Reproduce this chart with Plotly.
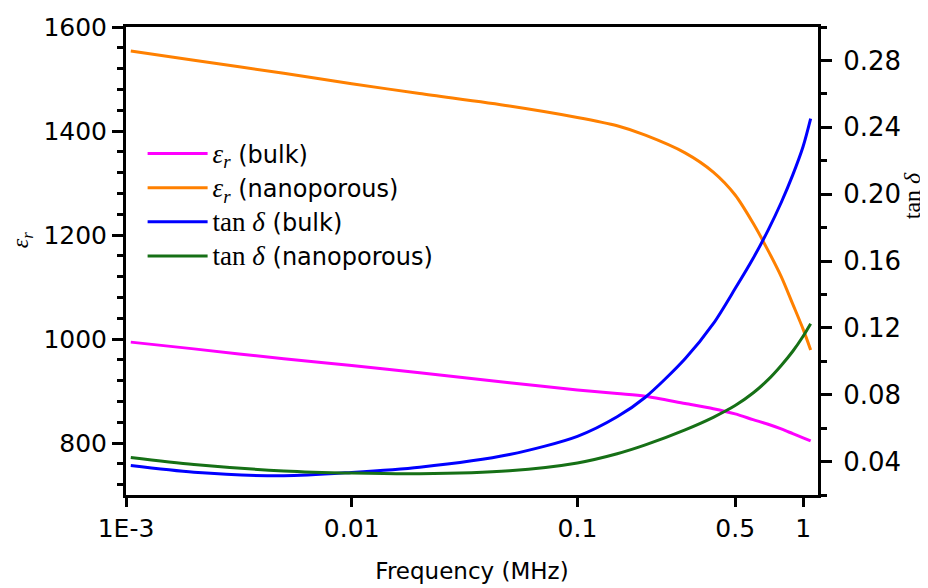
import plotly.graph_objects as go

freq_mhz = [0.00105, 0.002, 0.005, 0.01, 0.02, 0.05, 0.1, 0.15, 0.2, 0.3,
            0.4, 0.5, 0.6, 0.7, 0.8, 0.9, 1.0, 1.08]

# Relative permittivity (left axis)
eps_bulk = [994, 981, 962, 949, 935, 916, 902, 895, 890, 876,
            866, 856, 845, 836, 827, 818, 810, 804]
eps_nano = [1554, 1536, 1511, 1491, 1472, 1448, 1426, 1410, 1392, 1358,
            1321, 1277, 1223, 1170, 1120, 1067, 1019, 979]

# Loss tangent (right axis)
tan_bulk = [0.0376, 0.0336, 0.0315, 0.0335, 0.0366, 0.0442, 0.0551, 0.0668,
            0.0785, 0.1015, 0.1225, 0.1435, 0.1615, 0.1785, 0.1950, 0.2115,
            0.2285, 0.2452]
tan_nano = [0.0424, 0.0382, 0.0344, 0.0331, 0.0327, 0.0345, 0.0392, 0.0447,
            0.0500, 0.0590, 0.0665, 0.0735, 0.0810, 0.0890, 0.0975, 0.1060,
            0.1150, 0.1225]

x_tickvals = [0.001, 0.01, 0.1, 0.5, 1]
x_ticktext = ["1E-3", "0.01", "0.1", "0.5", "1"]

SANS = "DejaVu Sans"
MATH = "Liberation Serif"
eps_lbl = f'<span style="font-family:{MATH};font-size:27px"><i>ε<sub>r</sub></i></span>'
tan_lbl = f'<span style="font-family:{MATH};font-size:27px">tan <i>δ</i></span>'

fig = go.Figure()
fig.add_trace(go.Scatter(x=freq_mhz, y=eps_bulk, mode="lines", name=f"{eps_lbl} (bulk)",
                         line=dict(color="#FF00FF", width=3, shape="spline", smoothing=0.8)))
fig.add_trace(go.Scatter(x=freq_mhz, y=eps_nano, mode="lines", name=f"{eps_lbl} (nanoporous)",
                         line=dict(color="#FF8000", width=3, shape="spline", smoothing=0.8)))
fig.add_trace(go.Scatter(x=freq_mhz, y=tan_bulk, mode="lines", name=f"{tan_lbl} (bulk)",
                         yaxis="y2", line=dict(color="#0000FF", width=3, shape="spline", smoothing=0.8)))
fig.add_trace(go.Scatter(x=freq_mhz, y=tan_nano, mode="lines", name=f"{tan_lbl} (nanoporous)",
                         yaxis="y2", line=dict(color="#167016", width=3, shape="spline", smoothing=0.8)))

fig.update_layout(
    width=928, height=588, autosize=False,
    margin=dict(l=118, r=118, t=19, b=101),
    paper_bgcolor="white", plot_bgcolor="white",
    font=dict(family=SANS, size=25, color="black"),
    showlegend=True,
    legend=dict(x=0.024, y=0.777, xanchor="left", yanchor="top",
                bgcolor="rgba(0,0,0,0)", font=dict(family=SANS, size=24),
                itemwidth=60, tracegroupgap=0, valign="middle"),
    xaxis=dict(type="log", range=[-3, 0.066], tickvals=x_tickvals, ticktext=x_ticktext,
               automargin=False,
               showline=True, linewidth=3, linecolor="black", mirror=True,
               ticks="outside", ticklen=9, tickwidth=3, tickcolor="black",
               ticklabelstandoff=0,
               showgrid=False, zeroline=False,
               title=dict(text="Frequency (MHz)", font=dict(family=SANS, size=23), standoff=21)),
    yaxis=dict(range=[700, 1600], tick0=0, dtick=200, automargin=False,
               showline=True, linewidth=3, linecolor="black",
               ticks="outside", ticklen=11, tickwidth=3, tickcolor="black",
               minor=dict(dtick=40, ticks="outside", ticklen=6, tickwidth=3, tickcolor="black"),
               ticklabelstandoff=0,
               showgrid=False, zeroline=False),
    yaxis2=dict(range=[0.02, 0.30], tick0=0, dtick=0.04, tickformat=".2f", automargin=False,
                overlaying="y", side="right",
                showline=True, linewidth=3, linecolor="black",
                ticks="outside", ticklen=11, tickwidth=3, tickcolor="black",
                tickfont=dict(size=26),
                minor=dict(dtick=0.02, ticks="outside", ticklen=6, tickwidth=3, tickcolor="black"),
                ticklabelstandoff=6,
                showgrid=False, zeroline=False),
    annotations=[
        dict(text="<i>ε<sub>r</sub></i>", xref="paper", yref="paper", x=-0.150, y=0.545,
             xanchor="center", yanchor="middle",
             showarrow=False, textangle=-90, font=dict(family=MATH, size=24)),
        dict(text="tan <i>δ</i>", xref="paper", yref="paper", x=1.137, y=0.64,
             xanchor="center", yanchor="middle",
             showarrow=False, textangle=-90, font=dict(family=MATH, size=24)),
    ],
)

fig.write_html("out.html")
